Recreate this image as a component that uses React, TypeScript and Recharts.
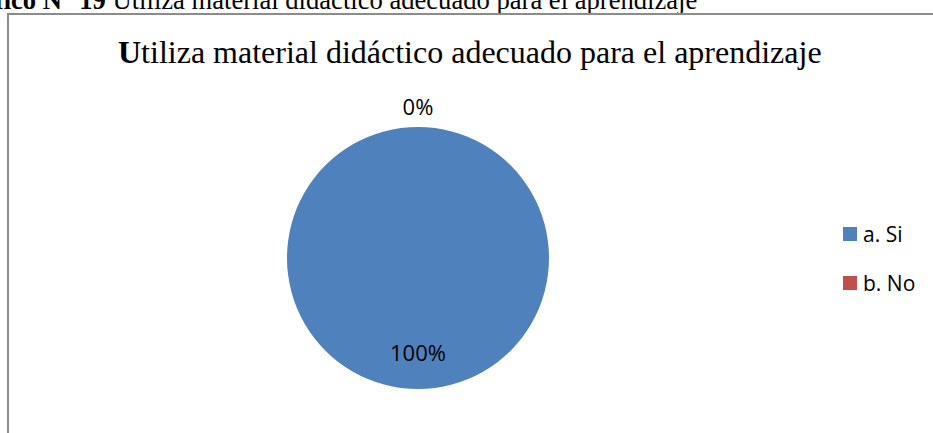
import { PieChart, Pie, Cell, Legend } from "recharts";

// datos del gráfico
const categorias = ["a. Si", "b. No"];
const valores = [100, 0];
const colores = ["#4F81BD", "#C0504D"];
const titulo = "Utiliza material didáctico adecuado para el aprendizaje";

const data = categorias.map((name, i) => ({ name, value: valores[i] }));

const RAD = Math.PI / 180;
const labelFont = "'Open Sans', 'Noto Sans', sans-serif";
const serif = "'Liberation Serif', 'Times New Roman', serif";

function renderLabel(props: any) {
  const { cx, cy, midAngle, outerRadius, percent } = props;
  // 0% va afuera del círculo, el resto adentro
  const r = percent > 0 ? outerRadius * 0.72 : outerRadius + 21;
  const x = cx + r * Math.cos(-midAngle * RAD);
  const y = cy + r * Math.sin(-midAngle * RAD);
  return (
    <text
      x={x}
      y={y}
      textAnchor="middle"
      dominantBaseline="central"
      fill="#000"
      fontSize={22}
      fontFamily={labelFont}
    >
      {`${Math.round(percent * 100)}%`}
    </text>
  );
}

function LeyendaContent({ payload }: any) {
  return (
    <div>
      {(payload || []).map((item: any) => (
        <div
          key={item.value}
          style={{ display: "flex", alignItems: "center", height: 49 }}
        >
          <span
            style={{
              display: "inline-block",
              width: 14,
              height: 14,
              background: item.color,
              marginRight: 6,
            }}
          />
          <span style={{ fontFamily: labelFont, fontSize: 21, color: "#000" }}>
            {item.value}
          </span>
        </div>
      ))}
    </div>
  );
}

export default function App() {
  return (
    <div
      style={{
        position: "absolute",
        left: 0,
        top: 0,
        width: 933,
        height: 433,
        overflow: "hidden",
        background: "#fff",
      }}
    >
      <div
        style={{
          position: "absolute",
          left: -51,
          top: -15,
          whiteSpace: "nowrap",
          fontFamily: serif,
          fontSize: 26.6,
          lineHeight: "30px",
          color: "#000",
        }}
      >
        <b>Gráfico N° 19 </b>
        {titulo}
      </div>
      <div
        style={{
          position: "absolute",
          left: 7,
          top: 13,
          width: 960,
          height: 460,
          border: "2px solid #8c8c8c",
          boxSizing: "border-box",
        }}
      />
      <div
        style={{
          position: "absolute",
          left: 118,
          top: 32,
          whiteSpace: "nowrap",
          fontFamily: serif,
          fontSize: 32,
          lineHeight: "40px",
          color: "#000",
        }}
      >
        <b>{titulo[0]}</b>
        {titulo.slice(1)}
      </div>
      <div style={{ position: "absolute", left: 0, top: 0 }}>
        <PieChart width={933} height={433}>
          <Pie
            data={data}
            dataKey="value"
            nameKey="name"
            cx={413}
            cy={253}
            outerRadius={131}
            startAngle={90}
            endAngle={-270}
            stroke="none"
            label={renderLabel}
            labelLine={false}
            isAnimationActive={false}
          >
            {data.map((d, i) => (
              <Cell key={d.name} fill={colores[i]} />
            ))}
          </Pie>
          <Legend
            layout="vertical"
            align="right"
            verticalAlign="top"
            content={<LeyendaContent />}
            wrapperStyle={{ left: 843, top: 209, width: 90 }}
          />
        </PieChart>
      </div>
    </div>
  );
}
